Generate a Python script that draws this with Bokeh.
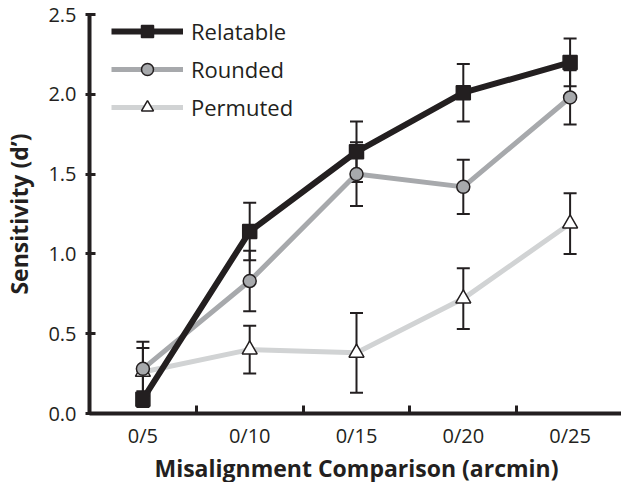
from bokeh.plotting import figure
from bokeh.models import (ColumnDataSource, Whisker, TeeHead, FixedTicker, Legend,
                          LegendItem, Range1d, NumeralTickFormatter)
from bokeh.embed import file_html
from bokeh.resources import INLINE

categories = ["0/5", "0/10", "0/15", "0/20", "0/25"]
relatable = [0.09, 1.14, 1.64, 2.01, 2.20]
relatable_err = [0.05, 0.18, 0.19, 0.18, 0.15]
rounded = [0.28, 0.83, 1.50, 1.42, 1.98]
rounded_err = [0.17, 0.19, 0.20, 0.17, 0.17]
permuted = [0.26, 0.40, 0.38, 0.72, 1.19]
permuted_err = [0.15, 0.15, 0.25, 0.19, 0.19]
y_ticks = [0.0, 0.5, 1.0, 1.5, 2.0, 2.5]

DARK = "#231f20"
FONT = "Open Sans"

xpos = [i + 1 for i in range(len(categories))]
boundaries = [i + 1.5 for i in range(len(categories) - 1)]

p = figure(frame_width=534, frame_height=399,
           x_range=Range1d(0.5, len(categories) + 0.5), y_range=Range1d(0, 2.5),
           output_backend="svg", toolbar_location=None,
           min_border_left=86, min_border_right=0, min_border_top=14, min_border_bottom=60)
p.outline_line_color = None
p.xgrid.visible = False
p.ygrid.visible = False
p.background_fill_color = "white"
p.border_fill_color = "white"

# X axis
xa = p.xaxis[0]
xa.ticker = FixedTicker(ticks=xpos, minor_ticks=boundaries)
xa.major_label_overrides = {x: c for x, c in zip(xpos, categories)}
xa.axis_line_width = 4
xa.axis_line_color = DARK
xa.major_tick_in = 0
xa.major_tick_out = 0
xa.minor_tick_in = 8
xa.minor_tick_out = 0
xa.minor_tick_line_width = 3
xa.minor_tick_line_color = DARK
xa.major_label_text_font = FONT
xa.major_label_text_font_size = "20px"
xa.major_label_text_color = DARK
xa.major_label_standoff = 8
xa.axis_label = "Misalignment Comparison (arcmin)"
xa.axis_label_text_font = FONT
xa.axis_label_text_font_style = "bold"
xa.axis_label_text_font_size = "23px"
xa.axis_label_text_color = DARK
xa.axis_label_standoff = 0

# Y axis
ya = p.yaxis[0]
ya.ticker = FixedTicker(ticks=y_ticks)
ya.formatter = NumeralTickFormatter(format="0.0")
ya.axis_line_width = 4
ya.axis_line_color = DARK
ya.major_tick_in = 6
ya.major_tick_out = 4
ya.major_tick_line_width = 3
ya.major_tick_line_color = DARK
ya.minor_tick_line_color = None
ya.major_label_text_font = FONT
ya.major_label_text_font_size = "20px"
ya.major_label_text_color = DARK
ya.major_label_standoff = 9
ya.axis_label = "Sensitivity (d\u2019)"
ya.axis_label_text_font = FONT
ya.axis_label_text_font_style = "bold"
ya.axis_label_text_font_size = "23px"
ya.axis_label_text_color = DARK
ya.axis_label_standoff = 10

series = [
    ("Relatable", relatable, relatable_err, DARK, 6, "square", DARK, 14),
    ("Rounded", rounded, rounded_err, "#a7a9ac", 5, "circle", "#a7a9ac", 13),
    ("Permuted", permuted, permuted_err, "#d1d3d4", 5, "triangle", "white", 15),
]

lines = {}
for name, vals, err, col, lw, mk, fill, sz in reversed(series):
    src = ColumnDataSource(dict(x=xpos, y=vals))
    lines[name] = p.line("x", "y", source=src, line_color=col, line_width=lw)

for name, vals, err, col, lw, mk, fill, sz in series:
    src = ColumnDataSource(dict(x=xpos,
                                upper=[v + e for v, e in zip(vals, err)],
                                lower=[v - e for v, e in zip(vals, err)]))
    w = Whisker(source=src, base="x", upper="upper", lower="lower", dimension="height",
                line_color=DARK, line_width=2,
                upper_head=TeeHead(size=13, line_color=DARK, line_width=2),
                lower_head=TeeHead(size=13, line_color=DARK, line_width=2))
    p.add_layout(w)

markers = {}
for name, vals, err, col, lw, mk, fill, sz in reversed(series):
    src = ColumnDataSource(dict(x=xpos, y=vals))
    markers[name] = p.scatter("x", "y", source=src, marker=mk, size=sz,
                              fill_color=fill, line_color=DARK, line_width=1.5)

items = [LegendItem(label=s[0], renderers=[lines[s[0]], markers[s[0]]]) for s in series]
legend = Legend(items=items, location=(22, 291), orientation="vertical",
                glyph_width=72, glyph_height=30, spacing=8, padding=0, margin=0,
                label_standoff=8, label_text_font=FONT, label_text_font_size="22px",
                label_text_color=DARK, border_line_color=None, background_fill_alpha=0)
p.add_layout(legend)

open("out.html", "w").write(file_html(p, INLINE))
